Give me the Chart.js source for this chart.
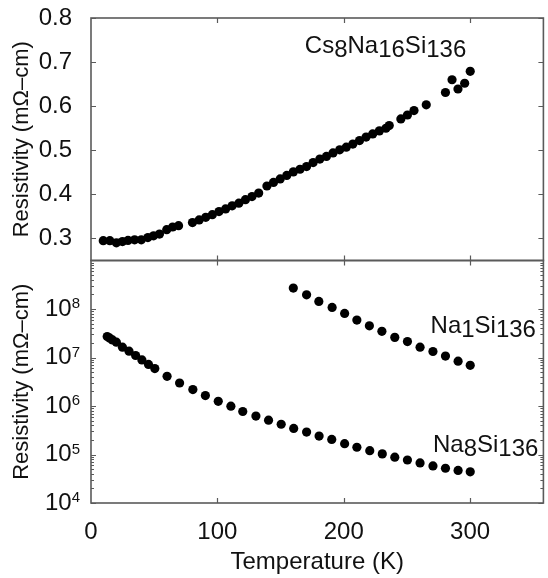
<!DOCTYPE html>
<html>
<head>
<meta charset="utf-8">
<script src="https://cdn.jsdelivr.net/npm/chart.js@4"></script>
<style>
  html, body { margin: 0; padding: 0; background: #fff; }
  #wrap { position: relative; width: 548px; height: 578px; }
</style>
</head>
<body>
<div id="wrap"><canvas id="chart_1"></canvas></div>
<script>
// Cs8Na16Si136 (top panel, linear)
var csTemp = [9.7, 14.9, 20.1, 24.9, 29.3, 34.5, 39.8, 45, 49.5, 54.2, 59.9, 64.6, 69.3,
  80.3, 85.6, 90.8, 96, 101.3, 106.5, 111.7, 117, 122.2, 127.4, 132.7, 139.2, 144.4, 149.7,
  154.9, 160.1, 165.4, 170.6, 175.8, 181.1, 186.3, 191.5, 196.8, 202, 207.2, 212.5, 217.7,
  222.9, 228.2, 233.4, 236, 245.2, 250.4, 255.6, 265.3, 280.5, 285.7, 290.4, 295.7, 300.1];
var csRes = [0.295, 0.295, 0.290, 0.293, 0.2955, 0.297, 0.297, 0.302, 0.306, 0.310, 0.320, 0.326, 0.329,
  0.336, 0.342, 0.348, 0.354, 0.361, 0.367, 0.374, 0.380, 0.388, 0.395, 0.403, 0.419, 0.427, 0.435,
  0.443, 0.451, 0.457, 0.463, 0.472, 0.480, 0.486, 0.494, 0.501, 0.507, 0.514, 0.522, 0.530,
  0.537, 0.544, 0.550, 0.556, 0.571, 0.580, 0.590, 0.603, 0.631, 0.660, 0.639, 0.652, 0.679];

// Na1Si136 (bottom panel, log)
var na1Temp = [160.1, 170.6, 180.3, 190.8, 200.7, 210.4, 220.3, 230.2, 240.4, 250.4, 260.4, 270.6, 280.5, 290.5, 300.1];
var na1Res = [2.7e8, 1.96e8, 1.43e8, 1.08e8, 8.1e7, 5.9e7, 4.5e7, 3.47e7, 2.6e7, 2.13e7, 1.63e7, 1.33e7, 1.07e7, 8.4e6, 6.9e6];

// Na8Si136 (bottom panel, log)
var na8Temp = [12.8, 14.9, 17, 20.1, 24.9, 30.1, 35.3, 40.3, 45.5, 50.5, 60.2, 70.1, 80.6, 90.5, 100.7, 110.7,
  120.1, 130.5, 140.5, 150.5, 160.4, 170.6, 180.5, 190.5, 200.7, 210.4, 220.6, 230.5, 240.4, 250.4,
  260.4, 270.6, 280.5, 290.5, 300.1];
var na8Res = [2.7e7, 2.5e7, 2.3e7, 2.07e7, 1.63e7, 1.35e7, 1.1e7, 8.9e6, 7.2e6, 5.9e6, 4.1e6, 2.98e6, 2.18e6, 1.64e6, 1.25e6, 9.9e5,
  7.7e5, 6.2e5, 5.1e5, 4.2e5, 3.45e5, 2.9e5, 2.4e5, 2.05e5, 1.67e5, 1.41e5, 1.2e5, 1.03e5, 8.8e4, 7.7e4,
  6.7e4, 5.8e4, 5.2e4, 4.7e4, 4.4e4];

// ticks
var xTicks = [0, 100, 200, 300];
var topTicks = [0.3, 0.4, 0.5, 0.6, 0.7, 0.8];
var logExps = [4, 5, 6, 7, 8];

// sample labels: text pieces + subscript flags, anchored at (T, rho)
var labels = [
  { parts: ["Cs", "8", "Na", "16", "Si", "136"], sub: [0, 1, 0, 1, 0, 1], t: 169.2, r: 0.72, axis: "yTop" },
  { parts: ["Na", "1", "Si", "136"], sub: [0, 1, 0, 1], t: 268.7, r: 3.16e7, axis: "yLog" },
  { parts: ["Na", "8", "Si", "136"], sub: [0, 1, 0, 1], t: 270.6, r: 1.14e5, axis: "yLog" },
];

var FONT = "'Liberation Sans', Arial, sans-serif";
var axisColor = "#5a5a5a";
var textColor = "#111";

function pts(xs, ys) {
  return xs.map(function (x, i) { return { x: x, y: ys[i] }; });
}

Chart.defaults.font.family = FONT;
Chart.defaults.font.size = 24;
Chart.defaults.color = textColor;

const framePlugin = {
  id: "frame",
  afterDraw: (chart) => {
    const { ctx } = chart;
    const x = chart.scales.x, yt = chart.scales.yTop, yl = chart.scales.yLog;
    ctx.save();
    ctx.strokeStyle = axisColor;
    ctx.lineWidth = 1.6;
    [yt, yl].forEach(function (s) {
      ctx.strokeRect(x.left, s.top, x.right - x.left, s.bottom - s.top);
    });
    ctx.lineWidth = 1.2;
    ctx.beginPath();
    // x ticks pointing in, top & bottom of each panel
    xTicks.forEach(function (v) {
      if (v === 0) return;
      const px = Math.round(x.getPixelForValue(v)) + 0.5;
      [yt, yl].forEach(function (s) {
        ctx.moveTo(px, s.top); ctx.lineTo(px, s.top + 5);
        ctx.moveTo(px, s.bottom); ctx.lineTo(px, s.bottom - 5);
      });
    });
    // linear y ticks
    topTicks.forEach(function (v) {
      const py = Math.round(yt.getPixelForValue(v)) + 0.5;
      ctx.moveTo(x.left, py); ctx.lineTo(x.left + 5, py);
      ctx.moveTo(x.right, py); ctx.lineTo(x.right - 5, py);
    });
    // log y ticks, major + minor
    for (let e = 4; e < 9; e++) {
      for (let m = 1; m < 10; m++) {
        const py = Math.round(yl.getPixelForValue(m * Math.pow(10, e))) + 0.5;
        const len = m === 1 ? 5 : 3;
        ctx.moveTo(x.left, py); ctx.lineTo(x.left + len, py);
        ctx.moveTo(x.right, py); ctx.lineTo(x.right - len, py);
      }
    }
    ctx.stroke();

    // log tick labels 10^n
    ctx.fillStyle = textColor;
    const rightEdge = x.left - 11;
    logExps.forEach(function (e) {
      const py = yl.getPixelForValue(Math.pow(10, e));
      ctx.font = "15px " + FONT;
      const sw = ctx.measureText(String(e)).width;
      ctx.textAlign = "left";
      ctx.textBaseline = "middle";
      ctx.fillText(String(e), rightEdge - sw, py - 5);
      ctx.font = "24px " + FONT;
      ctx.textAlign = "right";
      ctx.fillText("10", rightEdge - sw, py);
    });

    // sample labels with subscripts
    ctx.font = "24px " + FONT;
    ctx.textAlign = "left";
    ctx.textBaseline = "alphabetic";
    labels.forEach(function (lb) {
      let px = x.getPixelForValue(lb.t);
      const py = chart.scales[lb.axis].getPixelForValue(lb.r);
      lb.parts.forEach(function (p, i) {
        ctx.fillText(p, px, py + (lb.sub[i] ? 4 : 0));
        px += ctx.measureText(p).width;
      });
    });
    ctx.restore();
  },
};

function fitY(s) {
  s.width = 91;
  s.paddingTop = 0;
  s.paddingBottom = 0;
}

const ctxval1 = document.getElementById("chart_1");

var myChart1 = new Chart(ctxval1, {
  type: "scatter",
  data: {
    datasets: [
      {
        label: "Cs8Na16Si136",
        data: pts(csTemp, csRes),
        yAxisID: "yTop",
      },
      {
        label: "Na1Si136",
        data: pts(na1Temp, na1Res),
        yAxisID: "yLog",
      },
      {
        label: "Na8Si136",
        data: pts(na8Temp, na8Res),
        yAxisID: "yLog",
      },
    ],
  },
  options: {
    responsive: true,
    maintainAspectRatio: false,
    animation: false,
    layout: { padding: { top: 18, right: 1, left: 0, bottom: 0 } },
    elements: {
      point: { radius: 4.6, backgroundColor: "#000", borderWidth: 0, hoverRadius: 4.6 },
    },
    plugins: {
      legend: { display: false },
      tooltip: { enabled: false },
    },
    scales: {
      x: {
        type: "linear",
        min: 0,
        max: 358,
        grid: { display: false },
        border: { display: false },
        afterBuildTicks: (s) => { s.ticks = xTicks.map((v) => ({ value: v })); },
        afterFit: (s) => { s.height = 75; },
        ticks: { padding: 7, autoSkip: false, maxRotation: 0, color: textColor, font: { size: 24 } },
        title: {
          display: true,
          text: "Temperature (K)",
          color: textColor,
          font: { size: 24 },
          padding: { top: 0, bottom: 1 },
        },
      },
      yLog: {
        type: "logarithmic",
        position: "left",
        stack: "panels",
        stackWeight: 1,
        min: 1e4,
        max: 1e9,
        grid: { display: false },
        border: { display: false },
        afterBuildTicks: (s) => { s.ticks = logExps.map((e) => ({ value: Math.pow(10, e) })); },
        afterFit: fitY,
        ticks: { display: false },
        title: {
          display: true,
          text: "Resistivity (mΩ–cm)",
          color: textColor,
          font: { size: 22 },
          padding: { top: 9, bottom: 0 },
        },
      },
      yTop: {
        type: "linear",
        position: "left",
        stack: "panels",
        stackWeight: 1,
        min: 0.25,
        max: 0.8,
        grid: { display: false },
        border: { display: false },
        afterBuildTicks: (s) => { s.ticks = topTicks.map((v) => ({ value: v })); },
        afterFit: fitY,
        ticks: {
          padding: 11,
          autoSkip: false,
          color: textColor,
          font: { size: 24 },
          callback: (v) => Number(v).toFixed(1),
        },
        title: {
          display: true,
          text: "Resistivity (mΩ–cm)",
          color: textColor,
          font: { size: 22 },
          padding: { top: 9, bottom: 0 },
        },
      },
    },
  },
  plugins: [framePlugin],
});
</script>
</body>
</html>
